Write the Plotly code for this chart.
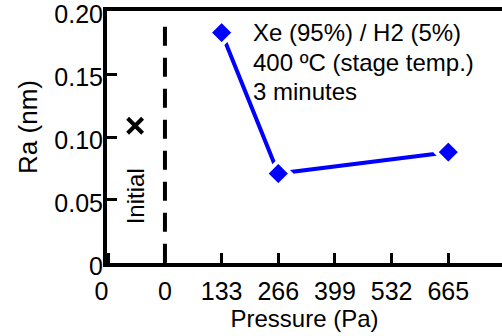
import plotly.graph_objects as go

# ---- data ----
pressure = [133, 266, 665]            # Pa
ra = [0.183, 0.071, 0.088]            # nm
initial_x = [-70]
initial_ra = [0.109]
xtick_vals = [-133, 0, 133, 266, 399, 532, 665]
xtick_text = ["0\u00a0\u00a0", "0", "133", "266", "399", "532", "665"]
ytick_vals = [0, 0.05, 0.10, 0.15, 0.20]
ytick_text = ["0", "0.05", "0.10", "0.15", "0.20"]
note_lines = ["Xe (95%) / H2 (5%)", "400 ºC (stage temp.)", "3 minutes"]
y_title = "Ra (nm)"
x_title = "Pressure (Pa)"

FONT = "Liberation Sans, Arial, sans-serif"

fig = go.Figure()
fig.add_trace(go.Scatter(
    x=pressure, y=ra, mode="lines+markers",
    line=dict(color="#0000FF", width=4),
    marker=dict(symbol="diamond", size=19, color="#0000FF",
                line=dict(color="white", width=4)),
    showlegend=False, cliponaxis=False))
fig.add_trace(go.Scatter(
    x=initial_x, y=initial_ra, mode="markers",
    marker=dict(symbol="x-thin", size=15, line=dict(color="black", width=4)),
    showlegend=False))

fig.add_shape(type="line", x0=0, x1=0, y0=0, y1=0.1905, xref="x", yref="y",
              line=dict(color="black", width=4, dash="19px,12px"))

fig.add_annotation(x=initial_x[0], y=0.053, xref="x", yref="y", text="Initial",
                   textangle=-90, showarrow=False,
                   font=dict(family=FONT, size=24, color="black"))

# y-axis title placed as rotated annotation (offset like the original)
fig.add_annotation(x=-0.2, y=0.54, xref="paper", yref="paper", text=y_title,
                   textangle=-90, showarrow=False, xanchor="center", yanchor="middle",
                   font=dict(family=FONT, size=26, color="black"))

ys = [0.9127, 0.7937, 0.6825]
for t, yy in zip(note_lines, ys):
    fig.add_annotation(x=0.3646, y=yy, xref="paper", yref="paper", text=t,
                       xanchor="left", yanchor="middle", showarrow=False,
                       font=dict(family=FONT, size=24, color="black"))

fig.update_layout(
    width=502, height=336,
    margin=dict(l=107, r=0, t=11, b=73),
    plot_bgcolor="white", paper_bgcolor="white",
    font=dict(family=FONT, size=24, color="black"),
    xaxis=dict(range=[-136, 791], tickvals=xtick_vals, ticktext=xtick_text,
               ticks="inside", ticklen=10, tickwidth=3, tickcolor="black",
               tickfont=dict(family=FONT, size=25),
               ticklabelstandoff=3,
               showline=True, linewidth=4, linecolor="black", mirror=True,
               showgrid=False, zeroline=False,
               title=dict(text=x_title, standoff=4,
                          font=dict(family=FONT, size=24))),
    yaxis=dict(range=[-0.0001, 0.2002], tickvals=ytick_vals, ticktext=ytick_text,
               ticks="inside", ticklen=10, tickwidth=3, tickcolor="black",
               tickfont=dict(family=FONT, size=25),
               ticklabelstandoff=-5, ticklabelshift=3,
               ticklabeloverflow="allow",
               showline=True, linewidth=4, linecolor="black",
               showgrid=False, zeroline=False),
)

fig.write_html("out.html")
